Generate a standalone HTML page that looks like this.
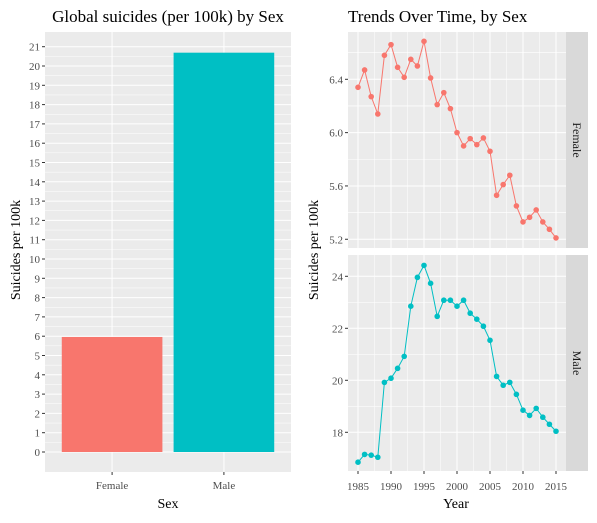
<!DOCTYPE html>
<html><head><meta charset="utf-8"><style>
body{margin:0;background:#fff;}
svg text{font-family:"Liberation Serif",serif;}
</style></head><body>
<svg id="chart" width="597" height="518" viewBox="0 0 597 518" xmlns="http://www.w3.org/2000/svg">
<text x="168" y="22" text-anchor="middle" font-size="17" fill="#000">Global suicides (per 100k) by Sex</text>
<text x="348" y="22" font-size="17" fill="#000">Trends Over Time, by Sex</text>
<g id="left"></g><g id="right"></g>
<text x="168" y="508" text-anchor="middle" font-size="14">Sex</text>
<text x="456" y="508" text-anchor="middle" font-size="14">Year</text>
<text transform="translate(20,250) rotate(-90)" text-anchor="middle" font-size="14">Suicides per 100k</text>
<text transform="translate(318,250) rotate(-90)" text-anchor="middle" font-size="14">Suicides per 100k</text>
</svg>
<script>
const sexes = ["Female","Male"];
const barValues = [5.96, 20.69];
const barTicks = [0,1,2,3,4,5,6,7,8,9,10,11,12,13,14,15,16,17,18,19,20,21];
const years = [1985,1986,1987,1988,1989,1990,1991,1992,1993,1994,1995,1996,1997,1998,1999,2000,2001,2002,2003,2004,2005,2006,2007,2008,2009,2010,2011,2012,2013,2014,2015];
const femaleValues = [6.34,6.47,6.27,6.14,6.58,6.66,6.49,6.415,6.55,6.50,6.685,6.41,6.21,6.30,6.18,6.00,5.90,5.955,5.91,5.96,5.86,5.53,5.61,5.68,5.45,5.33,5.365,5.42,5.33,5.275,5.21];
const maleValues = [16.85,17.15,17.12,17.04,19.92,20.08,20.46,20.92,22.85,23.96,24.42,23.73,22.46,23.08,23.08,22.85,23.08,22.58,22.35,22.08,21.54,20.15,19.81,19.92,19.46,18.85,18.65,18.92,18.58,18.31,18.04];
const yearTicks = [1985,1990,1995,2000,2005,2010,2015];
const femaleTicks = [5.2,5.6,6.0,6.4];
const maleTicks = [18,20,22,24];
const colors = ["#F8766D","#00BFC4"];
const NS="http://www.w3.org/2000/svg";
function mk(p,tag,a){const e=document.createElementNS(NS,tag);for(const k in a)e.setAttribute(k,a[k]);p.appendChild(e);return e;}

const L=document.getElementById('left');
const lx0=45,lx1=291,ly0=32,ly1=472;
const yB=v=>452-v*19.3;
const bandW=(lx1-lx0)/2.2;
const xB=i=>lx0+bandW*(0.6+i);
let bg=mk(L,'rect',{x:lx0,y:ly0,width:lx1-lx0,height:ly1-ly0,fill:'#ebebeb'});


barTicks.forEach((t,i)=>{
  const y=yB(t);
  if(i<barTicks.length-1) mk(L,'line',{x1:lx0,x2:lx1,y1:y-9.65,y2:y-9.65,stroke:'#fff','stroke-width':0.5});
  mk(L,'line',{x1:lx0,x2:lx1,y1:y,y2:y,stroke:'#fff','stroke-width':1});
  mk(L,'line',{x1:lx0-3,x2:lx0,y1:y,y2:y,stroke:'#333'});
  const tx=mk(L,'text',{x:lx0-5,y:y+4,'text-anchor':'end','font-size':11,fill:'#4d4d4d'});tx.textContent=t;
  
  
});
sexes.forEach((s,i)=>{
  const cx=xB(i);
  mk(L,'line',{x1:cx,x2:cx,y1:ly0,y2:ly1,stroke:'#fff'});
});
sexes.forEach((s,i)=>{
  const cx=xB(i),w=bandW*0.9;
  const r=mk(L,'rect',{x:cx-w/2,y:yB(barValues[i]),width:w,height:yB(0)-yB(barValues[i]),fill:colors[i]});
  
  
  mk(L,'line',{x1:cx,x2:cx,y1:ly1,y2:ly1+3,stroke:'#333'});
  const tx=mk(L,'text',{x:cx,y:ly1+17,'text-anchor':'middle','font-size':11,fill:'#4d4d4d'});tx.textContent=s;
  
  
});

const R=document.getElementById('right');
const rx0=348,rx1=566,sx1=588;
const xY=y=>358+(y-1985)*6.6;
function vline(x,top,bot,w){ if(x>rx0&&x<rx1) mk(R,'line',{x1:x,x2:x,y1:top,y2:bot,stroke:'#fff','stroke-width':w}); }
function facet(name,vals,ticks,top,bot,yf,col,step){
  let p=mk(R,'rect',{x:rx0,y:top,width:rx1-rx0,height:bot-top,fill:'#ebebeb'});
  
  
  let s=mk(R,'rect',{x:rx1,y:top,width:sx1-rx1,height:bot-top,fill:'#d9d9d9'});
  
  
  const st=mk(R,'text',{transform:`translate(${rx1+7},${(top+bot)/2}) rotate(90)`,'text-anchor':'middle','font-size':12,fill:'#1a1a1a'});
  st.textContent=name[0].toUpperCase()+name.slice(1);
  
  
  ticks.forEach((t,i)=>{
    const y=yf(t);
    [y-yf(0)+yf(step/2),y-(yf(0)-yf(step/2))].forEach(my=>{ if(my>top&&my<bot) mk(R,'line',{x1:rx0,x2:rx1,y1:my,y2:my,stroke:'#fff','stroke-width':0.5});});
    mk(R,'line',{x1:rx0,x2:rx1,y1:y,y2:y,stroke:'#fff'});
    mk(R,'line',{x1:rx0-3,x2:rx0,y1:y,y2:y,stroke:'#333'});
    const tx=mk(R,'text',{x:rx0-5,y:y+4,'text-anchor':'end','font-size':11,fill:'#4d4d4d'});tx.textContent=t.toFixed(step<1?1:0);
    
    
  });
  yearTicks.forEach(t=>{
    const x=xY(t);
    vline(x+16.5,top,bot,0.5);
    vline(x,top,bot,1);
  });
  vline(xY(1980)+16.5,top,bot,0.5);
  const pts=vals.map((v,i)=>xY(years[i])+','+yf(v)).join(' ');
  const pl=mk(R,'polyline',{points:pts,fill:'none',stroke:col,'stroke-width':1});
  
  
  vals.forEach((v,i)=>{
    const c=mk(R,'circle',{cx:xY(years[i]),cy:yf(v),r:2.8,fill:col});
    
    
  });
}
facet('female',femaleValues,femaleTicks,32,248,v=>79.3+(6.4-v)*133.3,colors[0],0.4);
facet('male',maleValues,maleTicks,255,471,v=>276.3+(24-v)*26.0,colors[1],2);
yearTicks.forEach(t=>{
  const x=xY(t);
  mk(R,'line',{x1:x,x2:x,y1:471,y2:474,stroke:'#333'});
  const tx=mk(R,'text',{x:x,y:490,'text-anchor':'middle','font-size':11,fill:'#4d4d4d'});tx.textContent=t;
  
  
});
</script>
</body></html>
